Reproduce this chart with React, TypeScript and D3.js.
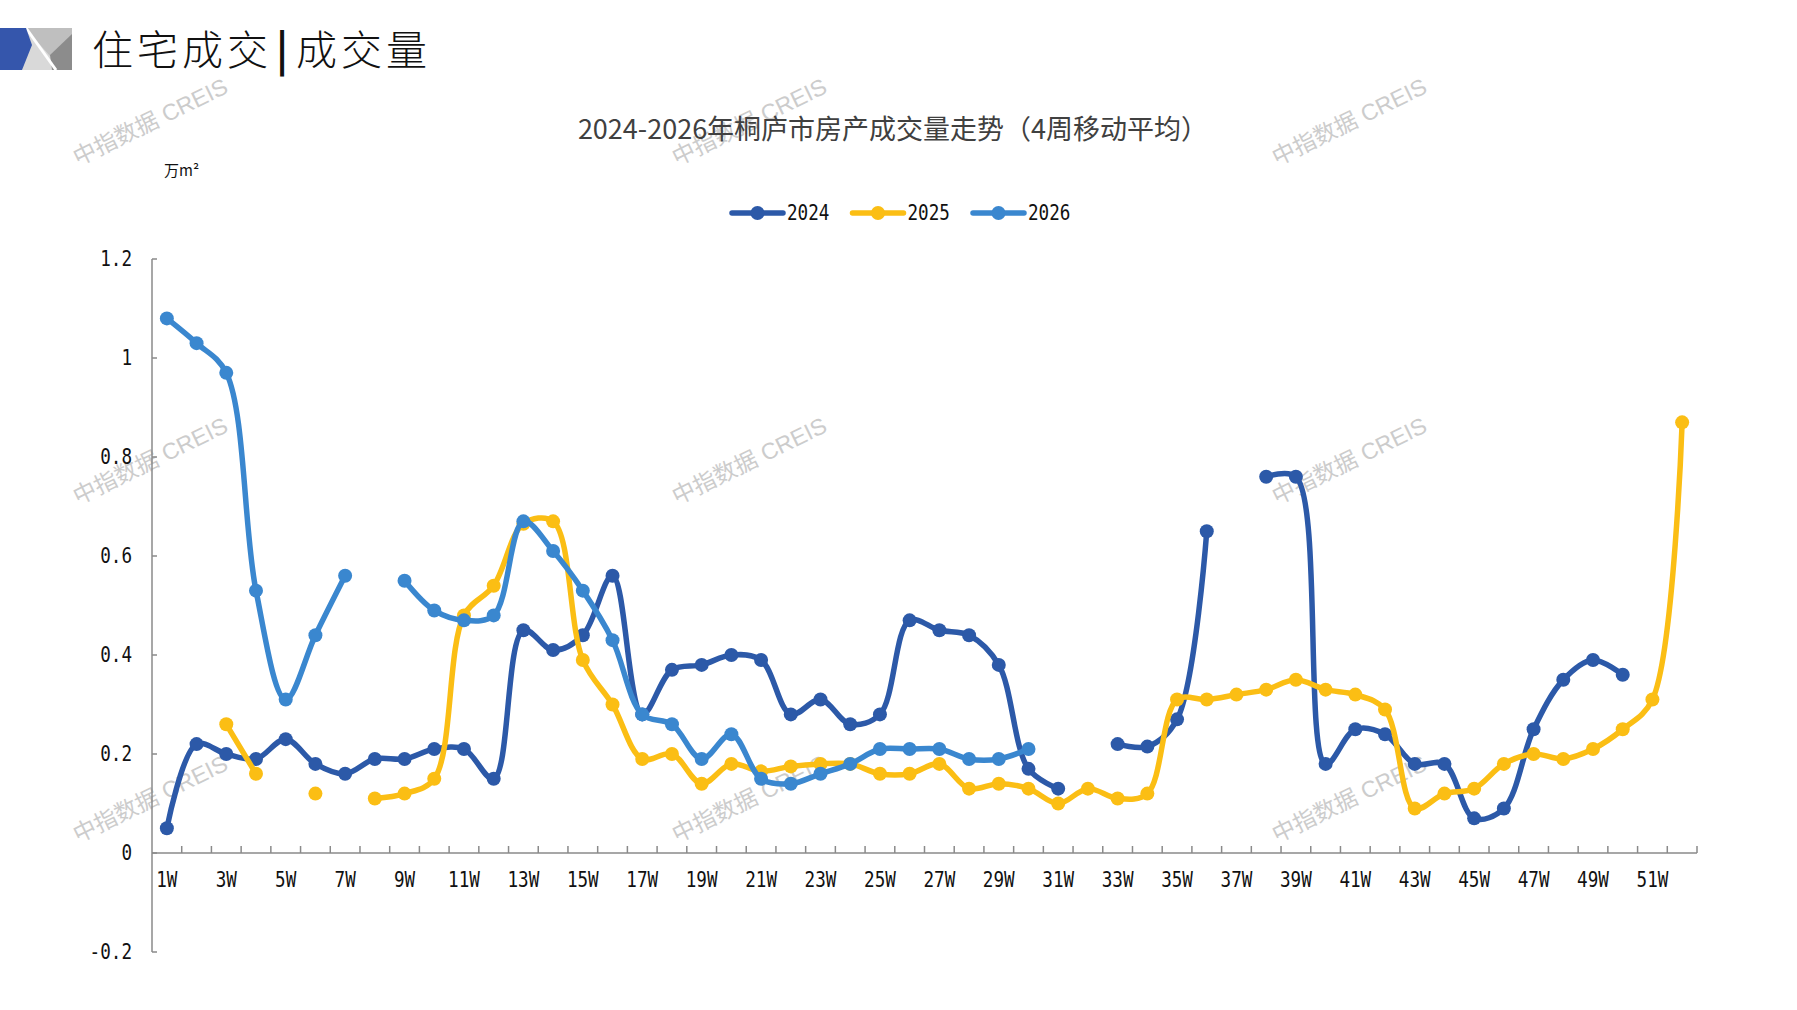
import React from "react";
import * as d3 from "d3";

const weeks: string[] = d3.range(1, 53).map((i) => `${i}W`);
const xTickLabels: string[] = weeks.filter((_, i) => i % 2 === 0);
const yTicks: number[] = [-0.2, 0, 0.2, 0.4, 0.6, 0.8, 1.0, 1.2];
const yTickLabels: string[] = ["-0.2", "0", "0.2", "0.4", "0.6", "0.8", "1", "1.2"];

const s2024: (number | null)[] = [
  0.05, 0.22, 0.2, 0.19, 0.23, 0.18, 0.16, 0.19, 0.19, 0.21, 0.21, 0.15, 0.45, 0.41, 0.44, 0.56,
  0.28, 0.37, 0.38, 0.4, 0.39, 0.28, 0.31, 0.26, 0.28, 0.47, 0.45, 0.44, 0.38, 0.17, 0.13, null,
  0.22, 0.215, 0.27, 0.65, null, 0.76, 0.76, 0.18, 0.25, 0.24, 0.18, 0.18, 0.07, 0.09, 0.25, 0.35,
  0.39, 0.36, null, null,
];
const s2025: (number | null)[] = [
  null, null, 0.26, 0.16, null, 0.12, null, 0.11, 0.12, 0.15, 0.48, 0.54, 0.665, 0.67, 0.39, 0.3,
  0.19, 0.2, 0.14, 0.18, 0.165, 0.175, 0.18, 0.18, 0.16, 0.16, 0.18, 0.13, 0.14, 0.13, 0.1, 0.13,
  0.11, 0.12, 0.31, 0.31, 0.32, 0.33, 0.35, 0.33, 0.32, 0.29, 0.09, 0.12, 0.13, 0.18, 0.2, 0.19,
  0.21, 0.25, 0.31, 0.87,
];
const s2026: (number | null)[] = [
  1.08, 1.03, 0.97, 0.53, 0.31, 0.44, 0.56, null, 0.55, 0.49, 0.47, 0.48, 0.67, 0.61, 0.53, 0.43,
  0.28, 0.26, 0.19, 0.24, 0.15, 0.14, 0.16, 0.18, 0.21, 0.21, 0.21, 0.19, 0.19, 0.21, null, null,
  null, null, null, null, null, null, null, null, null, null, null, null, null, null, null, null,
  null, null, null, null,
];

const seriesNames: string[] = ["2024", "2025", "2026"];
const seriesColors: string[] = ["#2C59A8", "#FBBE14", "#3A87CF"];
const seriesData = [s2024, s2025, s2026];

const watermarkPos: [number, number][] = [
  [78, 166], [677, 166], [1277, 166],
  [78, 505], [677, 505], [1277, 505],
  [78, 843], [677, 843], [1277, 843],
];

const W = 1797;
const H = 1010;
const monoFont = "'DejaVu Sans Mono', monospace";
const cjkFont = "'Noto Sans CJK SC', sans-serif";
const LABEL_SIZE = 21.5;
const LABEL_SX = 0.82;

function NarrowText(props: {
  x: number;
  y: number;
  anchor?: "start" | "middle" | "end";
  baseline?: string;
  children: React.ReactNode;
}) {
  const { x, y, anchor = "start", baseline, children } = props;
  return (
    <text
      transform={`translate(${x},${y}) scale(${LABEL_SX},1)`}
      textAnchor={anchor}
      dominantBaseline={baseline}
      fontFamily={monoFont}
      fontSize={LABEL_SIZE}
      fill="#111"
    >
      {children}
    </text>
  );
}

export default function App() {
  const x = d3.scaleBand<string>().domain(weeks).range([152, 1697]).paddingInner(0).paddingOuter(0);
  const y = d3.scaleLinear().domain([-0.2, 1.2]).range([952, 259]);
  const cx = (i: number) => (x(weeks[i]) as number) + x.bandwidth() / 2;

  const line = d3
    .line<number | null>()
    .defined((d) => d != null)
    .x((_, i) => cx(i))
    .y((d) => y(d as number))
    .curve(d3.curveCatmullRom.alpha(0.5));

  const boundaries = d3.range(1, weeks.length + 1).map((k) => 152 + k * x.bandwidth());

  return (
    <svg
      width={W}
      height={H}
      viewBox={`0 0 ${W} ${H}`}
      style={{ position: "absolute", left: 0, top: 0, background: "#fff" }}
    >
      <rect x={0} y={0} width={W} height={H} fill="#fff" />
      {/* header logo */}
      <g>
        <rect x={0} y={28} width={72} height={42} fill="#d9d9d9" />
        <polygon points="25,28 72,28 72,36 50,56" fill="#bfbfbf" />
        <polygon points="72,34 72,70 52,70 50,55" fill="#8c8c8c" />
        <line x1={26} y1={28} x2={56} y2={70} stroke="#ffffff" strokeWidth={3} />
        <polygon points="0,28 26,28 32,45 22,70 0,70" fill="#3556AC" />
      </g>
      <text x={92} y={65} fontFamily={cjkFont} fontSize={41} fontWeight={300} fill="#111" letterSpacing={4}>
        <tspan x={92}>住宅成交</tspan>
        <tspan x={276} fontWeight={700}>|</tspan>
        <tspan x={296}>成交量</tspan>
      </text>

      {/* watermarks */}
      {watermarkPos.map(([wx, wy], i) => (
        <text
          key={i}
          x={wx}
          y={wy}
          transform={`rotate(-26 ${wx} ${wy})`}
          fontFamily="'Liberation Sans', 'Noto Sans CJK SC', sans-serif"
          fontSize={23}
          fill="#cccccc"
        >
          中指数据 CREIS
        </text>
      ))}

      {/* chart title */}
      <text x={893} y={139} textAnchor="middle" fontFamily={cjkFont} fontSize={27} fill="#404040">
        2024-2026年桐庐市房产成交量走势（4周移动平均）
      </text>

      {/* unit */}
      <text x={164} y={176} fontFamily={cjkFont} fontSize={15} fill="#111">
        万m²
      </text>

      {/* legend */}
      {seriesNames.map((n, i) => {
        const lx = 732 + i * 120.5;
        return (
          <g key={n}>
            <line x1={lx} y1={213} x2={lx + 51} y2={213} stroke={seriesColors[i]} strokeWidth={5.5} strokeLinecap="round" />
            <circle cx={lx + 25.5} cy={213} r={7} fill={seriesColors[i]} />
            <NarrowText x={lx + 55} y={213} baseline="central">
              {n}
            </NarrowText>
          </g>
        );
      })}

      {/* axes */}
      <line x1={152} y1={259} x2={152} y2={952} stroke="#8a8a8a" strokeWidth={1.5} />
      {yTicks.map((t, i) => (
        <g key={t}>
          <line x1={152} y1={y(t)} x2={157} y2={y(t)} stroke="#8a8a8a" strokeWidth={1.5} />
          <NarrowText x={132} y={y(t)} anchor="end" baseline="central">
            {yTickLabels[i]}
          </NarrowText>
        </g>
      ))}
      <line x1={152} y1={y(0)} x2={1697} y2={y(0)} stroke="#8a8a8a" strokeWidth={1.5} />
      {boundaries.map((bx, i) => (
        <line key={i} x1={bx} y1={y(0)} x2={bx} y2={y(0) - 7} stroke="#8a8a8a" strokeWidth={1.5} />
      ))}
      {weeks.map((w, i) =>
        xTickLabels.includes(w) ? (
          <NarrowText key={w} x={cx(i)} y={887} anchor="middle">
            {w}
          </NarrowText>
        ) : null
      )}

      {/* series */}
      {seriesData.map((data, si) => (
        <g key={si}>
          <path d={line(data) || ""} fill="none" stroke={seriesColors[si]} strokeWidth={5.5} strokeLinejoin="round" strokeLinecap="round" />
          {data.map((v, i) =>
            v == null ? null : <circle key={i} cx={cx(i)} cy={y(v)} r={7} fill={seriesColors[si]} />
          )}
        </g>
      ))}
    </svg>
  );
}
